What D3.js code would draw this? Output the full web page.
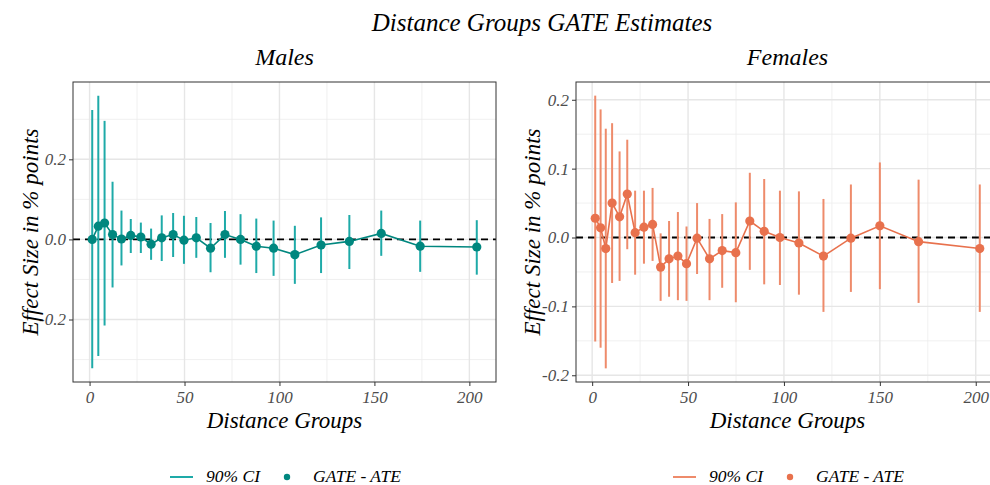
<!DOCTYPE html>
<html>
<head>
<meta charset="utf-8">
<script src="https://cdn.jsdelivr.net/npm/d3@7/dist/d3.min.js"></script>
<style>
  body { margin: 0; background: #fff; overflow: hidden; }
  text { font-family: "Liberation Serif", "DejaVu Serif", serif; font-style: italic; }
</style>
</head>
<body>
<div id="chart"></div>
<script>
// ---- data ----
var maleX  = [1.4, 4.6, 7.9, 12.1, 16.8, 21.7, 27.0, 32.4, 38.0, 44.0, 49.7, 56.2, 63.7, 71.3, 79.5, 87.8, 96.9, 108.1, 121.9, 136.8, 153.6, 174.1, 203.9];
var maleEst = [0.000, 0.033, 0.041, 0.012, 0.001, 0.010, 0.006, -0.012, 0.004, 0.012, -0.002, 0.004, -0.022, 0.012, 0.000, -0.017, -0.022, -0.038, -0.014, -0.005, 0.015, -0.017, -0.019];
var maleHi = [0.323, 0.359, 0.296, 0.144, 0.072, 0.051, 0.042, 0.027, 0.060, 0.066, 0.059, 0.056, 0.041, 0.071, 0.063, 0.052, 0.047, 0.034, 0.055, 0.061, 0.072, 0.047, 0.048];
var maleLo = [-0.322, -0.291, -0.215, -0.120, -0.065, -0.034, -0.034, -0.051, -0.054, -0.044, -0.061, -0.046, -0.082, -0.046, -0.063, -0.084, -0.091, -0.111, -0.084, -0.074, -0.041, -0.081, -0.088];

var femaleX  = [1.6, 4.4, 7.1, 10.4, 14.3, 18.3, 22.4, 27.0, 31.5, 35.7, 40.1, 44.7, 49.2, 54.7, 61.2, 67.8, 74.9, 82.2, 89.7, 97.9, 107.8, 120.6, 134.9, 150.0, 170.2, 202.1];
var femaleEst = [0.028, 0.014, -0.016, 0.050, 0.030, 0.063, 0.007, 0.015, 0.019, -0.043, -0.031, -0.027, -0.038, -0.001, -0.031, -0.019, -0.022, 0.024, 0.009, 0.000, -0.008, -0.027, -0.001, 0.017, -0.006, -0.016];
var femaleHi = [0.206, 0.186, 0.158, 0.166, 0.125, 0.142, 0.068, 0.068, 0.072, 0.006, 0.024, 0.037, 0.016, 0.050, 0.027, 0.034, 0.051, 0.094, 0.085, 0.068, 0.067, 0.056, 0.077, 0.109, 0.084, 0.077];
var femaleLo = [-0.151, -0.160, -0.190, -0.066, -0.063, -0.017, -0.054, -0.038, -0.034, -0.092, -0.086, -0.091, -0.092, -0.053, -0.091, -0.073, -0.094, -0.047, -0.068, -0.069, -0.083, -0.108, -0.079, -0.075, -0.095, -0.108];

var xTicks = [0, 50, 100, 150, 200];
var xTickLabels = ["0", "50", "100", "150", "200"];
var maleYTicks = [-0.2, 0, 0.2];
var maleYTickLabels = ["-0.2", "0.0", "0.2"];
var femaleYTicks = [-0.2, -0.1, 0, 0.1, 0.2];
var femaleYTickLabels = ["-0.2", "-0.1", "0.0", "0.1", "0.2"];

var chartTitle = "Distance Groups GATE Estimates";
var legendLabels = ["90% CI", "GATE - ATE"];

var W = 990, H = 485;
var svg = d3.select("#chart").append("svg")
    .attr("width", W)
    .attr("height", H);

svg.append("text")
    .attr("x", 542)
    .attr("y", 31)
    .attr("text-anchor", "middle")
    .style("font-size", "25px")
    .text(chartTitle);

// expand like ggplot (5% each side)
function expand(lo, hi) {
    var d = (hi - lo) * 0.05;
    return [lo - d, hi + d];
}

function drawPanel(cfg) {
    var left = cfg.left, top = 82, w = 423, h = 300;
    var data = cfg.x.map(function(v, i) {
        return {x: v, est: cfg.est[i], lo: cfg.lo[i], hi: cfg.hi[i]};
    });

    var x = d3.scaleLinear()
        .domain(expand(d3.min(cfg.x), d3.max(cfg.x)))
        .range([0, w]);
    var y = d3.scaleLinear()
        .domain(expand(d3.min(cfg.lo), d3.max(cfg.hi)))
        .range([h, 0]);

    var g = svg.append("g")
        .attr("transform", "translate(" + left + "," + top + ")");

    // strip title
    svg.append("text")
        .attr("x", left + w / 2)
        .attr("y", 65)
        .attr("text-anchor", "middle")
        .style("font-size", "24px")
        .text(cfg.title);

    // minor grid (midpoints between major ticks)
    var xMinor = [], yMinor = [];
    for (var i = 0; i < cfg.xTicks.length - 1; i++) xMinor.push((cfg.xTicks[i] + cfg.xTicks[i + 1]) / 2);
    var ys = cfg.yTicks, step = ys[1] - ys[0];
    yMinor.push(ys[0] - step / 2);
    for (var j = 0; j < ys.length; j++) yMinor.push(ys[j] + step / 2);
    yMinor = yMinor.filter(function(v) { return v > y.domain()[0] && v < y.domain()[1]; });

    g.selectAll(".xminor").data(xMinor).enter().append("line")
        .attr("x1", function(d) { return x(d); }).attr("x2", function(d) { return x(d); })
        .attr("y1", 0).attr("y2", h)
        .attr("stroke", "#ececec").attr("stroke-width", 0.8);
    g.selectAll(".yminor").data(yMinor).enter().append("line")
        .attr("y1", function(d) { return y(d); }).attr("y2", function(d) { return y(d); })
        .attr("x1", 0).attr("x2", w)
        .attr("stroke", "#ececec").attr("stroke-width", 0.8);
    g.selectAll(".xmajor").data(cfg.xTicks).enter().append("line")
        .attr("x1", function(d) { return x(d); }).attr("x2", function(d) { return x(d); })
        .attr("y1", 0).attr("y2", h)
        .attr("stroke", "#e6e6e6").attr("stroke-width", 1.4);
    g.selectAll(".ymajor").data(cfg.yTicks).enter().append("line")
        .attr("y1", function(d) { return y(d); }).attr("y2", function(d) { return y(d); })
        .attr("x1", 0).attr("x2", w)
        .attr("stroke", "#e6e6e6").attr("stroke-width", 1.4);

    // zero line
    g.append("line")
        .attr("x1", 0).attr("x2", w)
        .attr("y1", y(0)).attr("y2", y(0))
        .attr("stroke", "#000")
        .attr("stroke-width", 1.8)
        .attr("stroke-dasharray", "7,5");

    // CI bars
    g.selectAll(".ci").data(data).enter().append("line")
        .attr("x1", function(d) { return x(d.x); }).attr("x2", function(d) { return x(d.x); })
        .attr("y1", function(d) { return y(d.lo); }).attr("y2", function(d) { return y(d.hi); })
        .attr("stroke", cfg.ciColor)
        .attr("stroke-width", 2);

    // connecting line
    var line = d3.line()
        .x(function(d) { return x(d.x); })
        .y(function(d) { return y(d.est); });
    g.append("path")
        .attr("d", line(data))
        .attr("fill", "none")
        .attr("stroke", cfg.ptColor)
        .attr("stroke-width", 1.6);

    g.selectAll(".pt").data(data).enter().append("circle")
        .attr("cx", function(d) { return x(d.x); })
        .attr("cy", function(d) { return y(d.est); })
        .attr("r", 4.6)
        .attr("fill", cfg.ptColor);

    // panel border
    g.append("rect")
        .attr("width", w).attr("height", h)
        .attr("fill", "none")
        .attr("stroke", "#333")
        .attr("stroke-width", 1);

    // axes
    var xAxis = d3.axisBottom(x).tickValues(cfg.xTicks).tickSize(4).tickPadding(3)
        .tickFormat(function(d, i) { return cfg.xLabels[i]; });
    var gx = g.append("g").attr("transform", "translate(0," + h + ")").call(xAxis);
    var yAxis = d3.axisLeft(y).tickValues(cfg.yTicks).tickSize(4).tickPadding(3)
        .tickFormat(function(d, i) { return cfg.yLabels[i]; });
    var gy = g.append("g").call(yAxis);
    [gx, gy].forEach(function(a) {
        a.select(".domain").remove();
        a.selectAll(".tick line").attr("stroke", "#333").attr("stroke-width", 1);
        a.selectAll(".tick text")
            .attr("fill", "#4d4d4d")
            .style("font-size", "17px")
            .style("font-family", "'Liberation Serif', serif")
            .style("font-style", "italic");
    });
    gx.selectAll(".tick text").attr("dy", "0.85em");

    // axis titles
    svg.append("text")
        .attr("x", left + w / 2)
        .attr("y", 428)
        .attr("text-anchor", "middle")
        .style("font-size", "23px")
        .text("Distance Groups");
    svg.append("text")
        .attr("transform", "translate(" + (cfg.yTitleX) + "," + (top + h / 2) + ") rotate(-90)")
        .attr("text-anchor", "middle")
        .style("font-size", "23px")
        .text("Effect Size in % points");

    // legend
    var lg = svg.append("g").attr("transform", "translate(" + cfg.legendX + ",477)");
    lg.append("line").attr("x1", 0).attr("x2", 23).attr("y1", 0).attr("y2", 0)
        .attr("stroke", cfg.ciColor).attr("stroke-width", 2);
    lg.append("text").attr("x", 36).attr("y", 5).style("font-size", "17.5px").text(legendLabels[0]);
    lg.append("circle").attr("cx", 117).attr("cy", 0).attr("r", 3.2).attr("fill", cfg.ptColor);
    lg.append("text").attr("x", 143).attr("y", 5).style("font-size", "17.5px").text(legendLabels[1]);
}

drawPanel({
    title: "Males", left: 73, yTitleX: 38, legendX: 170,
    x: maleX, est: maleEst, lo: maleLo, hi: maleHi,
    xTicks: xTicks, xLabels: xTickLabels,
    yTicks: maleYTicks, yLabels: maleYTickLabels,
    ciColor: "#1eaaa8", ptColor: "#00877f"
});
drawPanel({
    title: "Females", left: 576, yTitleX: 540, legendX: 673,
    x: femaleX, est: femaleEst, lo: femaleLo, hi: femaleHi,
    xTicks: xTicks, xLabels: xTickLabels,
    yTicks: femaleYTicks, yLabels: femaleYTickLabels,
    ciColor: "#ee8b6b", ptColor: "#e8714d"
});
</script>
</body>
</html>
